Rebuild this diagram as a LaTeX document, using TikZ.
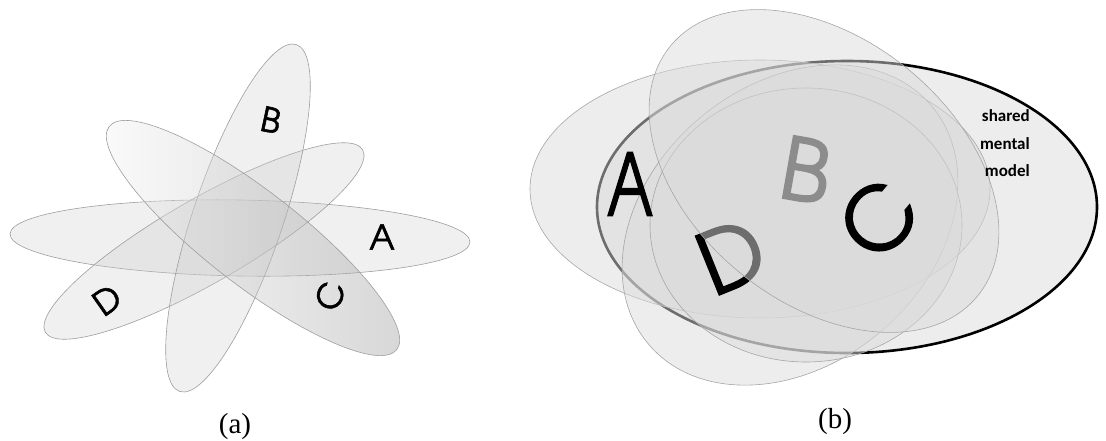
\documentclass[tikz,border=0pt]{standalone}
\usepackage{fontspec}
\newfontfamily\letterfont[FakeBold=1.6]{texgyreadventor-regular.otf}
\newfontfamily\smmfont{Carlito}
\newfontfamily\capfont{Liberation Serif}
\begin{document}
\begin{tikzpicture}[x=1pt,y=-1pt,
  pa/.style={draw=black!38, line width=0.6pt, fill=black!20, fill opacity=0.3},
  pb/.style={draw=black!35, line width=0.6pt, fill=black!14, fill opacity=0.5},
  shm/.style={draw=black, line width=2.6pt, fill=black!7},
  lta/.style={inner sep=0pt, font=\letterfont\fontsize{34}{34}\selectfont},
  ltb/.style={inner sep=0pt, font=\letterfont\fontsize{86}{86}\selectfont},
  smm/.style={inner sep=0pt, anchor=base east, font=\smmfont\bfseries\fontsize{17}{17}\selectfont},
  capt/.style={inner sep=0pt, anchor=base, font=\capfont\fontsize{29}{29}\selectfont}]
\useasboundingbox (0,0) rectangle (1106,440);

% ---------- (a) ----------
\path[pa, shift={(240,238)}, rotate=-1] (0,0) ellipse [x radius=230, y radius=38];
\path[pa, shift={(204,241)}, rotate=29.9] (0,0) ellipse [x radius=183, y radius=42];
\path[pa, shift={(238,218)}, rotate=71.4] (0,0) ellipse [x radius=183, y radius=45];
\shade[shift={(253,238)}, rotate=-37.8, left color=black!4, right color=black!40, fill opacity=0.4] (0,0) ellipse [x radius=182, y radius=47];
\draw[black!38, line width=0.6pt, shift={(253,238)}, rotate=-37.8] (0,0) ellipse [x radius=182, y radius=47];

\node[lta, rotate=-12] (aB) at (271,120) {B};
\node[lta] (aA) at (382,237) {A};
\node[lta, rotate=75] (aC) at (330,296) {C};
\node[lta, rotate=35] (aD) at (107,300) {D};

\node[capt] (capa) at (235,433) {(a)};

% ---------- (b) ----------
\path[shm] (847,207) ellipse [x radius=250, y radius=146];
\path[pb] (760,189) ellipse [x radius=230, y radius=129];
\path[pb, shift={(790,225)}, rotate=40] (0,0) ellipse [x radius=185, y radius=140];
\path[pb] (806,225) ellipse [x radius=156, y radius=137];

\node[ltb, xscale=0.72] (bA) at (630,184) {A};
\node[ltb, rotate=22] (bD) at (731,256) {D};

\path[pb, shift={(824,171)}, rotate=-39] (0,0) ellipse [x radius=198, y radius=132];

\node[ltb, rotate=-10, text=black!45] (bB) at (806,170) {B};
\node[ltb, rotate=50] (bC) at (878,219) {C};

\node[smm] (s1) at (1030,121) {shared};
\node[smm] (s2) at (1030,149) {mental};
\node[smm] (s3) at (1030,176) {model};

\node[capt] (capb) at (835,428) {(b)};
\end{tikzpicture}
\end{document}
